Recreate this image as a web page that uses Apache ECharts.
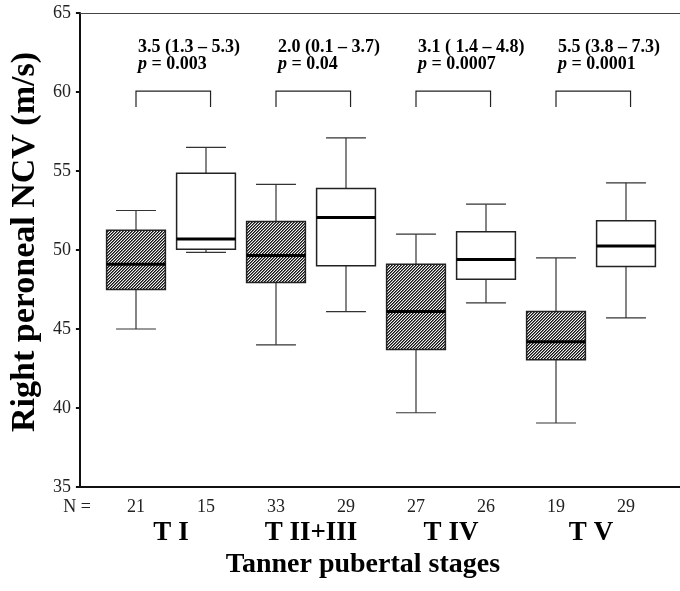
<!DOCTYPE html>
<html>
<head>
<meta charset="utf-8">
<script src="https://cdn.jsdelivr.net/npm/echarts@6/dist/echarts.min.js"></script>
<style>
  html, body { margin: 0; padding: 0; background: #fff; }
  #chart { width: 680px; height: 591px; }
</style>
</head>
<body>
<div id="chart"></div>
<script>
const nLabels = ['21', '15', '33', '29', '27', '26', '19', '29'];
const stageLabels = ['T I', 'T II+III', 'T IV', 'T V'];
// min, Q1, median, Q3, max  (even index = hatched group, odd = white group)
const boxStats = [
  [45.0, 47.5, 49.1, 51.25, 52.5],
  [49.85, 50.05, 50.7, 54.85, 56.5],
  [44.0, 47.95, 49.65, 51.8, 54.15],
  [46.1, 49.0, 52.05, 53.9, 57.1],
  [39.7, 43.7, 46.1, 49.1, 51.0],
  [46.65, 48.15, 49.4, 51.15, 52.9],
  [39.05, 43.05, 44.2, 46.1, 49.5],
  [45.7, 48.95, 50.25, 51.85, 54.25]
];
const diffLabels = ['3.5 (1.3 – 5.3)', '2.0 (0.1 – 3.7)', '3.1 ( 1.4 – 4.8)', '5.5 (3.8 – 7.3)'];
const pLabels = ['0.003', '0.04', '0.0007', '0.0001'];
const bracketTop = 60.05, bracketBottom = 59.05;
const yMin = 35, yMax = 65, yStep = 5;

const serif = 'Liberation Serif';

function makeHatch() {
  const c = document.createElement('canvas');
  c.width = 3; c.height = 3;
  const ctx = c.getContext('2d');
  ctx.fillStyle = '#f0f0f0';
  ctx.fillRect(0, 0, 3, 3);
  for (let y = 0; y < 3; y++) {
    ctx.fillStyle = '#151515';
    ctx.fillRect((2 - y + 3) % 3, y, 1, 1);
    ctx.fillStyle = '#6a6a6a';
    ctx.fillRect((3 - y) % 3, y, 1, 1);
  }
  return c;
}
const hatch = { image: makeHatch(), repeat: 'repeat' };

function renderBox(params, api) {
  const i = api.value(0);
  const band = api.size([1, 0])[0];
  const half = band * 0.42, capHalf = band * 0.285;
  const lo = api.coord([i, api.value(1)]);
  const q1 = api.coord([i, api.value(2)]);
  const med = api.coord([i, api.value(3)]);
  const q3 = api.coord([i, api.value(4)]);
  const hi = api.coord([i, api.value(5)]);
  const x = lo[0];
  const thin = { stroke: '#333', lineWidth: 1.2 };
  return {
    type: 'group',
    children: [
      { type: 'line', shape: { x1: x, y1: hi[1], x2: x, y2: q3[1] }, style: thin },
      { type: 'line', shape: { x1: x - capHalf, y1: hi[1], x2: x + capHalf, y2: hi[1] }, style: thin },
      { type: 'line', shape: { x1: x, y1: q1[1], x2: x, y2: lo[1] }, style: thin },
      { type: 'line', shape: { x1: x - capHalf, y1: lo[1], x2: x + capHalf, y2: lo[1] }, style: thin },
      {
        type: 'rect',
        shape: { x: x - half, y: q3[1], width: half * 2, height: q1[1] - q3[1] },
        style: { fill: i % 2 === 0 ? hatch : '#fff', stroke: '#222', lineWidth: 1.5 }
      },
      { type: 'line', shape: { x1: x - half, y1: med[1], x2: x + half, y2: med[1] }, style: { stroke: '#000', lineWidth: 3 } }
    ]
  };
}

function renderBracket(params, api) {
  const i = api.value(0);
  const k = params.dataIndex;
  const band = api.size([1, 0])[0];
  const top = api.coord([i, api.value(1)]);
  const bot = api.coord([i, api.value(2)]);
  const x1 = top[0], x2 = top[0] + band * 1.065;
  const st = { stroke: '#222', lineWidth: 1.2, fill: null };
  return {
    type: 'group',
    children: [
      { type: 'polyline', shape: { points: [[x1, bot[1]], [x1, top[1]], [x2, top[1]], [x2, bot[1]]] }, style: st },
      {
        type: 'text',
        x: x1 + 2,
        y: top[1] - 18,
        style: {
          text: '{b|' + diffLabels[k] + '}\n{i|p}{b| = ' + pLabels[k] + '}',
          align: 'left',
          verticalAlign: 'bottom',
          rich: {
            b: { fontFamily: serif, fontWeight: 'bold', fontSize: 18, lineHeight: 17, fill: '#000' },
            i: { fontFamily: serif, fontWeight: 'bold', fontStyle: 'italic', fontSize: 18, lineHeight: 17, fill: '#000' }
          }
        }
      }
    ]
  };
}

const chart = echarts.init(document.getElementById('chart'));
chart.setOption({
  animation: false,
  grid: [
    { left: 77, right: 0, top: 13, height: 474 },
    { left: 101, width: 560, top: 13, height: 474 }
  ],
  graphic: [
    {
      type: 'text', right: 680 - 91, top: 498,
      style: { text: 'N =', fontFamily: serif, fontSize: 18, fill: '#222' }
    }
  ],
  xAxis: [
    {
      gridIndex: 0, type: 'value', min: 0, max: 1, position: 'bottom',
      axisLine: { lineStyle: { color: '#111', width: 2 } },
      axisTick: { show: false }, axisLabel: { show: false }, splitLine: { show: false },
      name: 'Tanner pubertal stages', nameLocation: 'middle', nameGap: 64,
      nameTextStyle: { fontFamily: serif, fontWeight: 'bold', fontSize: 28, color: '#000', padding: [0, 34, 0, 0] }
    },
    {
      gridIndex: 0, type: 'value', min: 0, max: 1, position: 'top',
      axisLine: { lineStyle: { color: '#444', width: 1.2 } },
      axisTick: { show: false }, axisLabel: { show: false }, splitLine: { show: false }
    },
    {
      gridIndex: 1, type: 'category', data: nLabels, position: 'bottom',
      axisLine: { show: false }, axisTick: { show: false },
      axisLabel: { margin: 11, fontFamily: serif, fontSize: 18, color: '#222' }
    },
    {
      gridIndex: 1, type: 'category', data: stageLabels, position: 'bottom',
      axisLine: { show: false }, axisTick: { show: false },
      axisLabel: { margin: 33, fontFamily: serif, fontWeight: 'bold', fontSize: 27, color: '#000' }
    }
  ],
  yAxis: [
    {
      gridIndex: 0, type: 'value', min: yMin, max: yMax, interval: yStep,
      axisLine: { show: true, lineStyle: { color: '#111', width: 2 } },
      axisTick: { show: true, length: 4, lineStyle: { color: '#111', width: 2 } },
      axisLabel: { margin: 9, fontFamily: serif, fontSize: 18, color: '#222' },
      splitLine: { show: false },
      name: 'Right peroneal NCV (m/s)', nameLocation: 'middle', nameGap: 37,
      nameTextStyle: { fontFamily: serif, fontWeight: 'bold', fontSize: 34, color: '#000', padding: [0, 0, 0, 16] }
    },
    {
      gridIndex: 1, type: 'value', min: yMin, max: yMax, show: false
    }
  ],
  series: [
    {
      type: 'custom', xAxisIndex: 2, yAxisIndex: 1,
      renderItem: renderBox,
      encode: { x: 0, y: [1, 2, 3, 4, 5] },
      data: boxStats.map((b, i) => [i].concat(b))
    },
    {
      type: 'custom', xAxisIndex: 2, yAxisIndex: 1,
      renderItem: renderBracket,
      encode: { x: 0, y: [1, 2] },
      data: pLabels.map((p, k) => [k * 2, bracketTop, bracketBottom])
    }
  ]
});
</script>
</body>
</html>
